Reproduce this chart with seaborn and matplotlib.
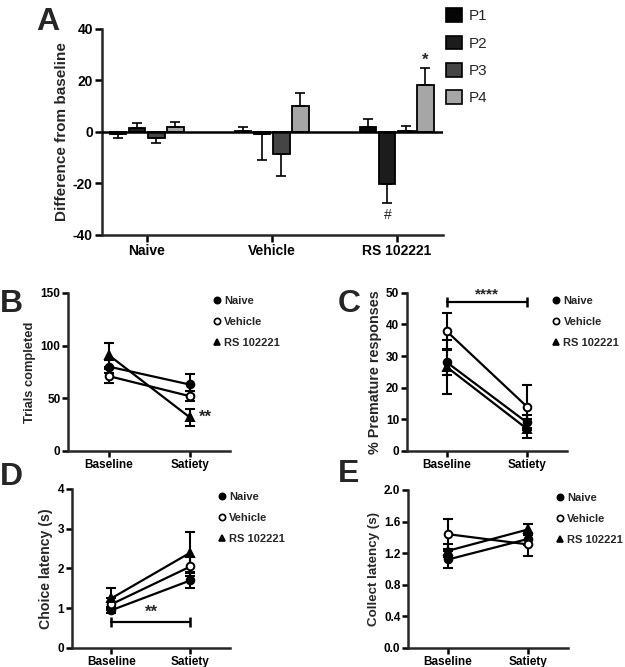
import matplotlib
matplotlib.use("Agg")
import matplotlib.pyplot as plt
from matplotlib.lines import Line2D
from matplotlib.patches import Patch
import numpy as np
import pandas as pd
import seaborn as sns

# ---- data ----
groups = ["Naive", "Vehicle", "RS 102221"]
periods = ["P1", "P2", "P3", "P4"]
period_colors = ["#050505", "#1c1c1c", "#454545", "#a6a6a6"]
# difference from baseline, rows = group, cols = period
diff_mean = [
    [-1.0, 1.5, -2.5, 2.0],
    [0.2, -1.0, -8.5, 9.8],
    [2.0, -20.3, 0.2, 18.0],
]
diff_sem = [
    [1.5, 2.0, 2.0, 1.6],
    [1.8, 10.0, 8.6, 5.4],
    [2.8, 7.2, 2.1, 6.7],
]

sessions = ["Baseline", "Satiety"]
drug_groups = ["Naive", "Vehicle", "RS 102221"]

trials_mean = {"Naive": [80, 63], "Vehicle": [71, 52], "RS 102221": [91, 32]}
trials_sem = {"Naive": [6, 10], "Vehicle": [7, 5], "RS 102221": [11, 8]}

premature_mean = {"Naive": [28, 9], "Vehicle": [37.8, 14], "RS 102221": [26.5, 7]}
premature_sem = {"Naive": [4, 2.5], "Vehicle": [5.7, 6.8], "RS 102221": [8.5, 3]}

choice_mean = {"Naive": [0.95, 1.70], "Vehicle": [1.10, 2.05], "RS 102221": [1.25, 2.40]}
choice_sem = {"Naive": [0.08, 0.20], "Vehicle": [0.15, 0.25], "RS 102221": [0.25, 0.52]}

collect_mean = {"Naive": [1.12, 1.38], "Vehicle": [1.44, 1.31], "RS 102221": [1.23, 1.50]}
collect_sem = {"Naive": [0.11, 0.08], "Vehicle": [0.19, 0.14], "RS 102221": [0.08, 0.07]}

markers = {"Naive": "o", "Vehicle": "o", "RS 102221": "^"}
faces = {"Naive": "black", "Vehicle": "white", "RS 102221": "black"}

sns.set_theme(style="ticks")
plt.rcParams["font.family"] = ["Liberation Sans", "DejaVu Sans"]
plt.rcParams["font.weight"] = "bold"
plt.rcParams["axes.labelweight"] = "bold"
plt.rcParams["axes.unicode_minus"] = False
plt.rcParams["axes.linewidth"] = 1.8
plt.rcParams["xtick.major.width"] = 1.8
plt.rcParams["ytick.major.width"] = 1.8
plt.rcParams["xtick.major.size"] = 4
plt.rcParams["ytick.major.size"] = 4
plt.rcParams["xtick.color"] = "black"
plt.rcParams["ytick.color"] = "black"

fig = plt.figure(figsize=(6.25, 6.67), dpi=100)


def style_axes(ax, size=8.5):
    sns.despine(ax=ax)
    ax.tick_params(axis="both", labelsize=size, pad=1.5)
    for lab in ax.get_xticklabels() + ax.get_yticklabels():
        lab.set_fontweight("bold")


# ---- Panel A: bar chart ----
axA = fig.add_axes([0.163, 0.648, 0.546, 0.309])
rows = []
for gi, g in enumerate(groups):
    for pi, p in enumerate(periods):
        rows.append({"group": g, "period": p, "diff": diff_mean[gi][pi], "sem": diff_sem[gi][pi]})
dfA = pd.DataFrame(rows)
sns.barplot(data=dfA, x="group", y="diff", hue="period", order=groups, hue_order=periods,
            palette=period_colors, width=0.61, gap=0.15, edgecolor="black", linewidth=1.3,
            errorbar=None, legend=False, ax=axA)

# bar centres per group, sorted left to right -> period order
bars = [b for b in axA.patches if b.get_width() > 0]
centres = {}
for b in bars:
    xc = b.get_x() + b.get_width() / 2
    centres.setdefault(int(round(xc)), []).append(xc)
for gi in range(len(groups)):
    xs = sorted(centres.get(gi, []))
    for pi, xc in enumerate(xs[:len(periods)]):
        val = diff_mean[gi][pi]
        err = diff_sem[gi][pi]
        yerr = [[0], [err]] if val >= 0 else [[err], [0]]
        axA.errorbar(xc, val, yerr=yerr, fmt="none", ecolor="black", elinewidth=1.2,
                     capsize=3.5, capthick=1.2, zorder=1)
        if gi == 2 and pi == 3:
            axA.text(xc, val + err + 0.3, "*", ha="center", va="bottom",
                     fontsize=12, fontweight="bold")
        if gi == 2 and pi == 1:
            axA.text(xc, val - err - 2.0, "#", ha="center", va="top",
                     fontsize=10, fontweight="normal")
axA.axhline(0, color="black", lw=1.8, zorder=3)
axA.set_ylim(-40, 40)
axA.set_yticks([-40, -20, 0, 20, 40])
axA.set_xlim(-0.36, 2.37)
axA.set_xlabel("")
axA.set_ylabel("Difference from baseline", fontsize=11, labelpad=3)
axA.tick_params(axis="x", length=5)
axA.tick_params(axis="y", length=5)
style_axes(axA, size=10)
fig.legend(handles=[Patch(facecolor=c, edgecolor="black", linewidth=1.2, label=p)
                    for c, p in zip(period_colors, periods)],
           loc="upper left", bbox_to_anchor=(0.692, 1.008), frameon=False,
           prop={"size": 11, "weight": "normal"}, handlelength=1.0, handleheight=1.0,
           labelspacing=0.8, handletextpad=0.5)


# ---- line panels ----
def line_panel(rect, means, sems, ylabel, label_size, ylim, yticks, legend_x):
    ax = fig.add_axes(rect)
    for g in drug_groups:
        d = pd.DataFrame({"x": [0, 1], "y": means[g]})
        ax.errorbar(d["x"], d["y"], yerr=sems[g], fmt="none", ecolor="black",
                    elinewidth=1.5, capsize=3.5, capthick=1.5, zorder=2)
        sns.lineplot(data=d, x="x", y="y", color="black", lw=1.6, marker=markers[g],
                     markersize=5.5, markerfacecolor=faces[g], markeredgecolor="black",
                     markeredgewidth=1.4, ax=ax, zorder=3)
    ax.set_xlim(-0.5, 1.5)
    ax.set_xticks([0, 1])
    ax.set_xticklabels(sessions)
    ax.set_ylim(*ylim)
    ax.set_yticks(yticks)
    ax.set_xlabel("")
    ax.set_ylabel(ylabel, fontsize=label_size, labelpad=3)
    style_axes(ax)
    handles = [Line2D([], [], ls="none", marker=markers[g], color="black",
                      markerfacecolor=faces[g], markeredgewidth=1.2, markersize=4.5, label=g)
               for g in drug_groups]
    ax.legend(handles=handles, loc="upper left", bbox_to_anchor=(legend_x, 1.008),
              frameon=False, prop={"size": 8.0, "weight": "bold"}, handlelength=0.6,
              handletextpad=0.35, labelspacing=1.0, borderaxespad=0)
    return ax


axB = line_panel([0.109, 0.324, 0.259, 0.237], trials_mean, trials_sem,
                 "Trials completed", 9.3, (0, 150), [0, 50, 100, 150], 0.87)
axB.text(1.12, 32, "**", ha="left", va="center", fontsize=12, fontweight="bold")

axC = line_panel([0.651, 0.324, 0.256, 0.237], premature_mean, premature_sem,
                 "% Premature responses", 10.4, (0, 50), [0, 10, 20, 30, 40, 50], 0.885)
axC.plot([0, 1], [47, 47], color="black", lw=1.6, marker="|", markersize=7, mew=1.8)
axC.text(0.5, 47.3, "****", ha="center", va="bottom", fontsize=11, fontweight="bold")

axD = line_panel([0.115, 0.0285, 0.253, 0.2385], choice_mean, choice_sem,
                 "Choice latency (s)", 10.2, (0, 4), [0, 1, 2, 3, 4], 0.9)
axD.plot([0, 1], [0.65, 0.65], color="black", lw=1.6, marker="|", markersize=7, mew=1.8)
axD.text(0.5, 0.72, "**", ha="center", va="bottom", fontsize=12, fontweight="bold")

axE = line_panel([0.653, 0.0285, 0.256, 0.237], collect_mean, collect_sem,
                 "Collect latency (s)", 9.6, (0, 2.0), [0, 0.4, 0.8, 1.2, 1.6, 2.0], 0.9)
axE.set_yticklabels(["0.0", "0.4", "0.8", "1.2", "1.6", "2.0"])
for lab in axE.get_yticklabels():
    lab.set_fontweight("bold")

# panel letters
for letter, x, y in [("A", 0.058, 0.99), ("B", 0.0, 0.567), ("C", 0.54, 0.567),
                     ("D", 0.0, 0.307), ("E", 0.54, 0.312)]:
    fig.text(x, y, letter, fontsize=23, fontweight="bold", ha="left", va="top")

fig.savefig("out.png", dpi=100)
